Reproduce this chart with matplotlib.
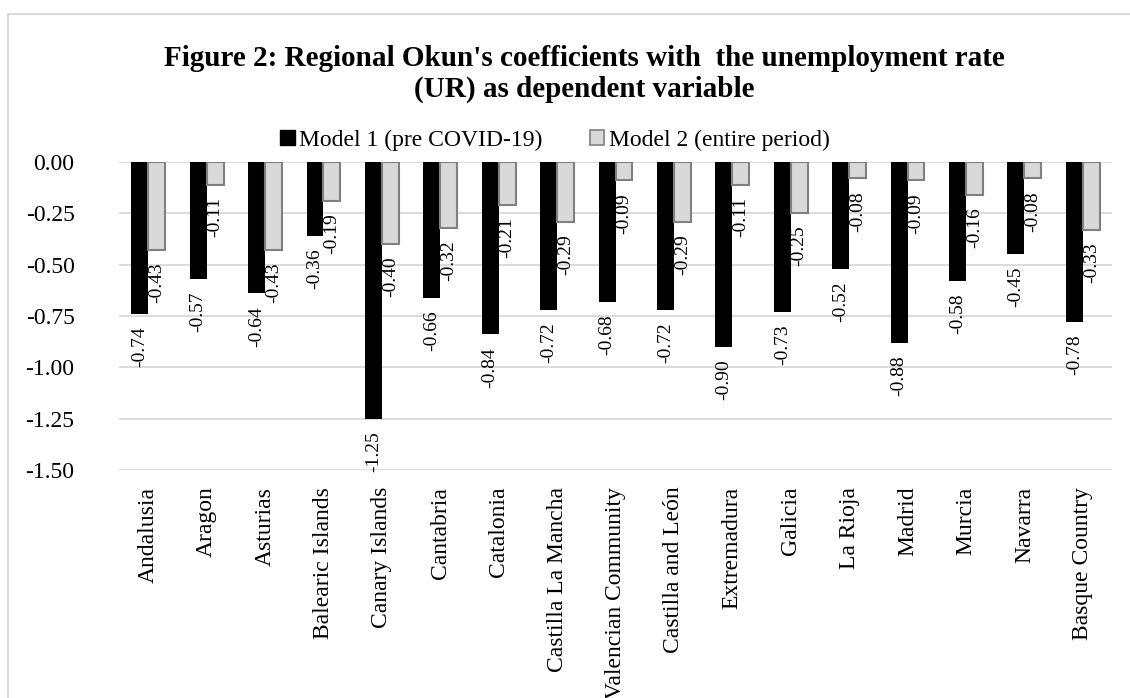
import matplotlib
matplotlib.use("Agg")
import matplotlib.pyplot as plt
from matplotlib.patches import Rectangle, Patch
import numpy as np

plt.rcParams['font.family'] = ['Liberation Serif', 'DejaVu Serif']

regions = ["Andalusia", "Aragon", "Asturias", "Balearic Islands", "Canary Islands",
           "Cantabria", "Catalonia", "Castilla La Mancha", "Valencian Community",
           "Castilla and León", "Extremadura", "Galicia", "La Rioja", "Madrid",
           "Murcia", "Navarra", "Basque Country"]
model1 = [-0.74, -0.57, -0.64, -0.36, -1.25, -0.66, -0.84, -0.72, -0.68, -0.72,
          -0.90, -0.73, -0.52, -0.88, -0.58, -0.45, -0.78]
model2 = [-0.43, -0.11, -0.43, -0.19, -0.40, -0.32, -0.21, -0.29, -0.09, -0.29,
          -0.11, -0.25, -0.08, -0.09, -0.16, -0.08, -0.33]
yticks = [0.0, -0.25, -0.5, -0.75, -1.0, -1.25, -1.5]
series_names = ["Model 1 (pre COVID-19)", "Model 2 (entire period)"]
title = "Figure 2: Regional Okun's coefficients with  the unemployment rate\n(UR) as dependent variable"

W, H = 1130, 698
fig = plt.figure(figsize=(W / 100, H / 100), dpi=100)
# outer chart frame
fig.patches.append(Rectangle((8 / W, -0.1), 1.2, 1 - 14 / H + 0.1, transform=fig.transFigure,
                             fill=False, edgecolor="#d9d9d9", linewidth=1.5))

ax = fig.add_axes([119 / W, 1 - 470 / H, (1112 - 119) / W, (470 - 162) / H])
x = np.arange(len(regions))
bw = 0.29
b1 = ax.bar(x - bw / 2, model1, bw, color="black", zorder=3)
b2 = ax.bar(x + bw / 2, model2, bw, color="#d9d9d9", edgecolor="#808080", linewidth=1.5, zorder=3)

for bars, vals in ((b1, model1), (b2, model2)):
    for r, v in zip(bars, vals):
        ax.annotate(f"{v:.2f}", (r.get_x() + r.get_width() / 2, v), xytext=(0, -9),
                    textcoords="offset points", rotation=90, ha="center", va="top",
                    fontsize=14, annotation_clip=False)

ax.set_xlim(-0.5, len(regions) - 0.5)
ax.set_ylim(-1.5, 0)
ax.set_yticks(yticks)
ax.set_yticklabels([f"{t:.2f}" for t in yticks], fontsize=17)
ax.set_xticks(x)
ax.set_xticklabels(regions, rotation=90, fontsize=17)
ax.tick_params(axis="both", length=0)
ax.tick_params(axis="y", pad=32)
ax.tick_params(axis="x", pad=12)
ax.grid(axis="y", color="#d9d9d9", linewidth=1.3, zorder=0)
for s in ax.spines.values():
    s.set_visible(False)

fig.text(584 / W, 1 - 74 / H, title, ha="center", va="center", fontsize=21,
         fontweight="bold", linespacing=1.2)

handles = [Patch(facecolor="black", edgecolor="black"),
           Patch(facecolor="#d9d9d9", edgecolor="#808080", linewidth=1.2)]
fig.legend(handles, series_names, loc="center", bbox_to_anchor=(555 / W, 1 - 140 / H),
           ncol=2, frameon=False, fontsize=17, handlelength=0.6, handleheight=0.6,
           handletextpad=0.2, columnspacing=2.0, borderpad=0)

fig.savefig("out.png", dpi=100)
